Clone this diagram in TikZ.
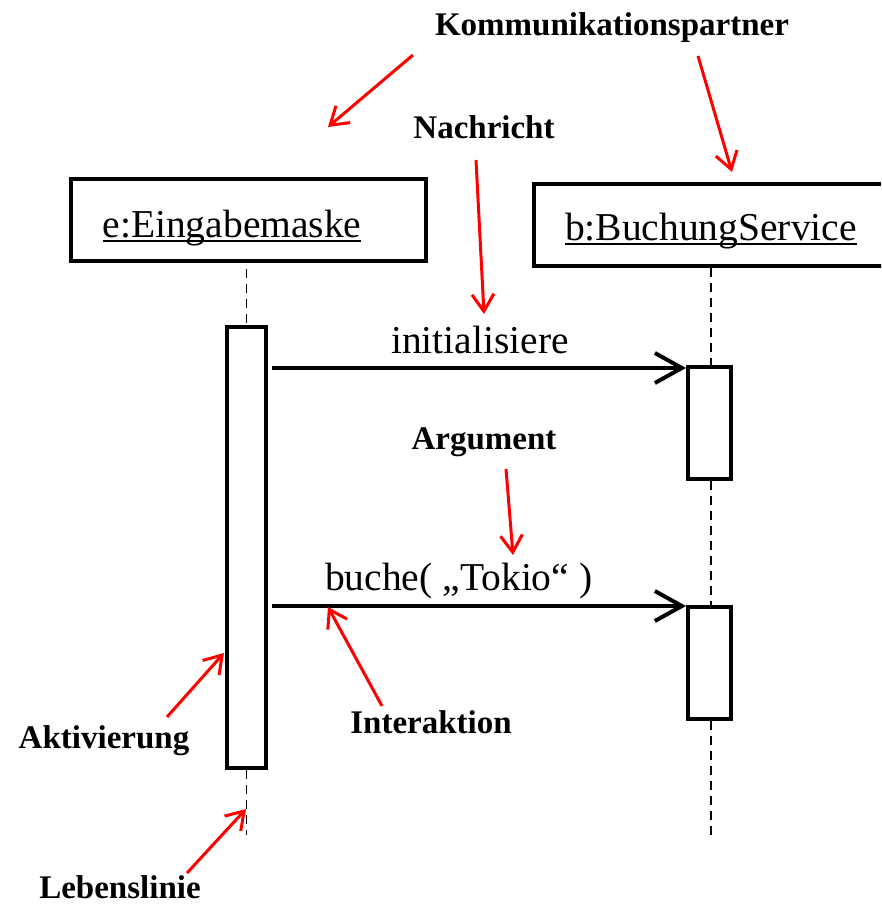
\documentclass[tikz,border=0pt]{standalone}
\usepackage{fontspec}
\setmainfont{Liberation Serif}
\usetikzlibrary{arrows.meta}

% underlined object name with a rule set a little below the baseline
\newcommand\objul[1]{\setbox0\hbox{#1}\rlap{\raisebox{-5pt}{\rule{\wd0}{1.8pt}}}\box0}

\begin{document}
\begin{tikzpicture}[x=1pt,y=-1pt,
  objbox/.style={draw, line width=4pt, fill=white, inner sep=0pt},
  actbox/.style={draw, line width=4pt, fill=white, inner sep=0pt, minimum width=40pt},
  lifeline/.style={line width=1.9pt, dash pattern=on 9pt off 6pt},
  msg/.style={line width=4pt, -{Straight Barb[length=27pt,width=30pt]}},
  note/.style={red, line width=3pt, -{Straight Barb[length=17pt,width=22pt]}},
  bigtext/.style={font=\fontsize{39.5}{47}\selectfont, inner sep=0pt},
  caption/.style={font=\fontsize{33}{40}\selectfont\bfseries, inner sep=0pt, anchor=base},
]
\useasboundingbox[clip] (0,0) rectangle (881,904);

% object heads (the right one runs past the right edge)
\node[objbox, minimum width=355pt, minimum height=82pt] (ebox) at (248.5,220) {};
\node[objbox, minimum width=352pt, minimum height=82pt] (bbox) at (710,225) {};
\node[bigtext, anchor=base] (ename) at (232,237) {\objul{e:Eingabemaske}};
\node[bigtext, anchor=base] (bname) at (711,240) {\objul{b:BuchungService}};

% activation bars
\node[actbox, minimum width=39pt, minimum height=441pt] (eact) at (246.5,547.5) {};
\node[actbox, minimum width=43pt, minimum height=112pt] (bact1) at (709.5,423) {};
\node[actbox, minimum width=43pt, minimum height=112pt] (bact2) at (709.5,663) {};

% lifelines
\coordinate (eend) at (246.5,835);
\coordinate (bend) at (711,835);
\draw[lifeline, dash phase=9pt] (ebox.south -| eact.north) -- (eact.north);
\draw[lifeline] (eact.south) -- (eend);
\draw[lifeline] ([xshift=1.5pt]bbox.south -| bact1.north) -- ([xshift=1.5pt]bact1.north);
\draw[lifeline] ([xshift=1.5pt]bact1.south) -- ([xshift=1.5pt]bact2.north);
\draw[lifeline] ([xshift=1.5pt]bact2.south) -- (bend);

% messages
\draw[msg] ([xshift=4pt,yshift=-3pt]eact.east |- bact1.north west) -- ([yshift=-3pt]bact1.north west);
\draw[msg] ([xshift=4pt,yshift=-1pt]eact.east |- bact2.north west) -- ([yshift=-1pt]bact2.north west);
\node[bigtext, anchor=base] (m1) at (480,353) {initialisiere};
\node[bigtext, anchor=base west] (m2) at (325,590) {buche( „Tokio“ )};

% explanatory captions
\node[caption] (kp) at (612,36) {Kommunikationspartner};
\node[caption] (na) at (484,139) {Nachricht};
\node[caption] (ar) at (484,449) {Argument};
\node[caption] (ia) at (431,733) {Interaktion};
\node[caption] (ak) at (104,748) {Aktivierung};
\node[caption] (ll) at (120,898) {Lebenslinie};

% pointer arrows
\coordinate (k1s) at (413,55);  \coordinate (k1e) at (328,127);
\coordinate (k2s) at (698,56);  \coordinate (k2e) at (732,172);
\coordinate (nas) at (476,160); \coordinate (nae) at (484,314);
\coordinate (ars) at (506,469); \coordinate (are) at (513,555);
\coordinate (ias) at (382,706); \coordinate (iae) at (328,607);
\coordinate (aks) at (167,717); \coordinate (ake) at (224,653);
\coordinate (lls) at (187,873); \coordinate (lle) at (246,809);
\draw[note] (k1s) -- (k1e);
\draw[note] (k2s) -- (k2e);
\draw[note] (nas) -- (nae);
\draw[note] (ars) -- (are);
\draw[note] (ias) -- (iae);
\draw[note] (aks) -- (ake);
\draw[note] (lls) -- (lle);
\end{tikzpicture}
\end{document}
